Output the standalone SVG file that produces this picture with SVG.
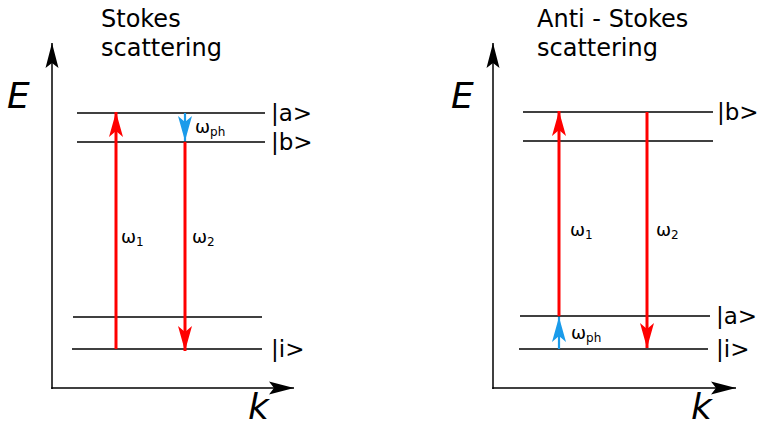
<svg xmlns="http://www.w3.org/2000/svg" width="760" height="421" viewBox="0 0 760 421">
<defs>
<style>
text{font-family:"DejaVu Sans","Verdana",sans-serif;fill:#000}
.title{font-size:24px}
.axl{font-size:36px;font-style:italic}
.lvl{font-size:23px}
.om{font-size:18px}
.lev{stroke:#000;stroke-width:1.5;fill:none}
.ax{stroke:#000;stroke-width:1.5;fill:none}
.red{stroke:#ff0000;stroke-width:3;fill:none}
.blue{stroke:#1a9bea;stroke-width:2.2;fill:none}
</style>
<marker id="axh" viewBox="0 0 26 14" refX="25" refY="7" markerWidth="26" markerHeight="14" markerUnits="userSpaceOnUse" orient="auto">
<path d="M0,0.5 L25,7 L0,13.5 L5,7 Z" fill="#000"/>
</marker>
<marker id="rh" viewBox="0 0 26 14" refX="25" refY="7" markerWidth="26" markerHeight="14" markerUnits="userSpaceOnUse" orient="auto">
<path d="M0,0 L25,7 L0,14 L6,7 Z" fill="#ff0000"/>
</marker>
<marker id="bh" viewBox="0 0 26 14" refX="25" refY="7" markerWidth="26" markerHeight="14" markerUnits="userSpaceOnUse" orient="auto">
<path d="M0,0 L25,7 L0,14 L6,7 Z" fill="#1a9bea"/>
</marker>
</defs>

<g id="stokes-panel">
<g id="stokes-title"><text class="title" x="101" y="27">Stokes</text><text class="title" x="101" y="56">scattering</text></g>
<g id="stokes-axes">
<line class="ax" x1="52" y1="389" x2="52" y2="43" marker-end="url(#axh)"/>
<line class="ax" x1="51.3" y1="388" x2="294" y2="388" marker-end="url(#axh)"/>
<text class="axl" x="7" y="108">E</text>
<text class="axl" x="248" y="419">k</text>
</g>
<g id="stokes-levels">
<line class="lev" x1="77" y1="113" x2="265" y2="113"/>
<line class="lev" x1="77" y1="142" x2="265" y2="142"/>
<line class="lev" x1="73" y1="317" x2="262" y2="317"/>
<line class="lev" x1="72" y1="349" x2="262" y2="349"/>
<text class="lvl" x="271" y="121">|a&gt;</text>
<text class="lvl" x="271" y="150">|b&gt;</text>
<text class="lvl" x="271" y="357">|i&gt;</text>
</g>
<g id="stokes-connectors">
<line class="red" x1="116" y1="349" x2="116" y2="112" marker-end="url(#rh)"/>
<line class="red" x1="185" y1="142" x2="185" y2="351" marker-end="url(#rh)"/>
<line class="blue" x1="185" y1="113" x2="185" y2="141" marker-end="url(#bh)"/>
</g>
<g id="stokes-labels">
<text class="om" x="121" y="243">ω<tspan font-size="12" dy="3">1</tspan></text>
<text class="om" x="192" y="243">ω<tspan font-size="12" dy="3">2</tspan></text>
<text class="om" x="195" y="133">ω<tspan font-size="12" dy="3">ph</tspan></text>
</g>
</g>

<g id="antistokes-panel">
<g id="antistokes-title"><text class="title" x="537" y="27">Anti - Stokes</text><text class="title" x="537" y="56">scattering</text></g>
<g id="antistokes-axes">
<line class="ax" x1="493" y1="389" x2="493" y2="43" marker-end="url(#axh)"/>
<line class="ax" x1="492.3" y1="388" x2="736" y2="388" marker-end="url(#axh)"/>
<text class="axl" x="451" y="108">E</text>
<text class="axl" x="691" y="419">k</text>
</g>
<g id="antistokes-levels">
<line class="lev" x1="523" y1="112" x2="713" y2="112"/>
<line class="lev" x1="523" y1="141" x2="713" y2="141"/>
<line class="lev" x1="520" y1="316" x2="710" y2="316"/>
<line class="lev" x1="519" y1="349" x2="708" y2="349"/>
<text class="lvl" x="717" y="120">|b&gt;</text>
<text class="lvl" x="716" y="324">|a&gt;</text>
<text class="lvl" x="716" y="357">|i&gt;</text>
</g>
<g id="antistokes-connectors">
<line class="red" x1="559" y1="316" x2="559" y2="111" marker-end="url(#rh)"/>
<line class="red" x1="647" y1="112" x2="647" y2="348" marker-end="url(#rh)"/>
<line class="blue" x1="559" y1="349" x2="559" y2="317" marker-end="url(#bh)"/>
</g>
<g id="antistokes-labels">
<text class="om" x="570" y="236">ω<tspan font-size="12" dy="3">1</tspan></text>
<text class="om" x="656" y="236">ω<tspan font-size="12" dy="3">2</tspan></text>
<text class="om" x="571" y="339">ω<tspan font-size="12" dy="3">ph</tspan></text>
</g>
</g>
</svg>
